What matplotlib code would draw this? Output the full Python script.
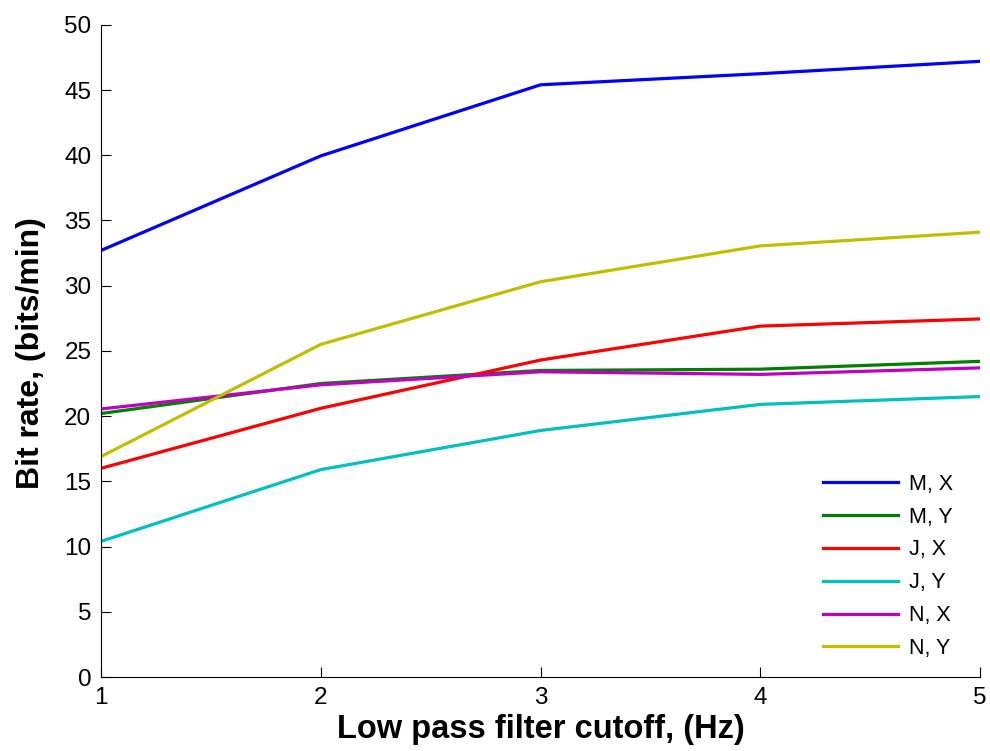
import matplotlib
matplotlib.use("Agg")
import matplotlib.pyplot as plt

plt.rcParams['font.family'] = ['Liberation Sans', 'DejaVu Sans']

cutoff = [1, 2, 3, 4, 5]
series_labels = ["M, X", "M, Y", "J, X", "J, Y", "N, X", "N, Y"]
m_x = [32.7, 39.95, 45.4, 46.25, 47.2]
m_y = [20.2, 22.5, 23.5, 23.6, 24.2]
j_x = [16.0, 20.6, 24.3, 26.9, 27.45]
j_y = [10.4, 15.9, 18.9, 20.9, 21.5]
n_x = [20.55, 22.4, 23.4, 23.2, 23.7]
n_y = [16.9, 25.5, 30.3, 33.05, 34.1]
colors = ["#0000ff", "#008000", "#ff0000", "#00bfbf", "#bf00bf", "#bfbf00"]

fig = plt.figure(figsize=(9.9, 7.51), dpi=100)
ax = fig.add_axes([0.102, 0.0985, 0.888, 0.8685])

for vals, lab, c in zip([m_x, m_y, j_x, j_y, n_x, n_y], series_labels, colors):
    ax.plot(cutoff, vals, color=c, lw=2.3, label=lab)

ax.set_xlim(1, 5)
ax.set_ylim(0, 50)
ax.set_xticks([1, 2, 3, 4, 5])
ax.set_yticks(range(0, 51, 5))
ax.spines['top'].set_visible(False)
ax.spines['right'].set_visible(False)
ax.tick_params(direction='in', length=7, labelsize=17.5, pad=7)
ax.set_xlabel("Low pass filter cutoff, (Hz)", fontsize=23.5, fontweight='bold', labelpad=4)
ax.set_ylabel("Bit rate, (bits/min)", fontsize=23, fontweight='bold')
ax.yaxis.set_label_coords(-0.062, 0.497)

ax.legend(loc='lower right', frameon=False, fontsize=15.5, handlelength=3.5,
          handletextpad=0.5, labelspacing=0.55, bbox_to_anchor=(0.991, -0.002))

fig.savefig("out.png", dpi=100)
